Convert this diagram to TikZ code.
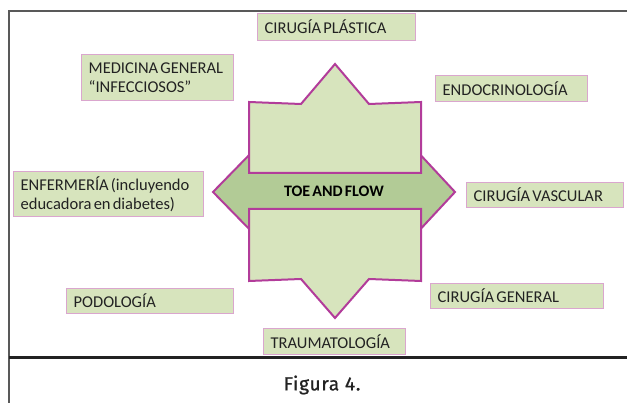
\documentclass[tikz,border=0pt]{standalone}
\usepackage{fontspec}
\setmainfont{Carlito}[WordSpace=0.6]
\newfontfamily\figfont{Fira Sans}[FakeBold=1,LetterSpace=4]
\usepackage{tikz}
\definecolor{leaf}{HTML}{D7E4BD}
\definecolor{leafdark}{HTML}{B2CB96}
\definecolor{plum}{HTML}{B23C9A}
\definecolor{rose}{HTML}{DAA6CE}
\definecolor{ink}{HTML}{222222}
\def\dpiece{\draw[plum,line width=2pt,fill=leaf]}
\def\dframe{\draw[black!65,line width=1.5pt]}

\begin{document}
\begin{tikzpicture}[x=1pt,y=-1pt,
    tag/.style={draw=rose,fill=leaf,line width=1.3pt,anchor=north west,
      align=left,inner xsep=7pt,inner ysep=1pt,text=ink,
      font=\fontsize{16.5}{18.5}\selectfont,
      execute at begin node={\spaceskip=0.13em\relax}}]
                \useasboundingbox (0,0) rectangle (627,403);
                % frame
                \dframe (9,403) -- (9,11) -- (627,11);
                \draw[ink,line width=3pt] (9,357.5) -- (627,357.5);
                % star
                \draw[plum,line width=2pt,fill=leafdark] (213,192) -- (255,149) -- (415,149)
                    -- (455,192) -- (415,235) -- (255,235) -- cycle;
                \dpiece (249,102) -- (301,104) -- (335,64) -- (369,104) -- (421,102)
                    -- (421,173) -- (249,173) -- cycle;
                \dpiece (249,209) -- (421,209) -- (421,281) -- (369,279) -- (335,318)
                    -- (301,279) -- (249,281) -- cycle;
                \node[text=black,font=\fontsize{16}{18}\selectfont\bfseries] (flow) at (334,191) {TOE AND FLOW};
                % boxes
                \node[tag,text width=144pt,minimum height=27pt] (plastica) at (257,13) {CIRUGÍA PLÁSTICA};
                \node[tag,text width=138pt,minimum height=46pt] (medicina) at (81,54) {MEDICINA GENERAL\\``INFECCIOSOS''};
                \node[tag,text width=138pt,minimum height=26pt] (endocrino) at (435,75) {ENDOCRINOLOGÍA};
                \node[tag,text width=176pt,minimum height=45pt] (enfermeria) at (13,171) {ENFERMERÍA (incluyendo\\educadora en diabetes)};
                \node[tag,text width=143pt,minimum height=25pt] (vascular) at (466,182) {CIRUGÍA VASCULAR};
                \node[tag,text width=153pt,minimum height=25pt] (podologia) at (66,288) {PODOLOGÍA};
                \node[tag,text width=159pt,minimum height=25pt] (general) at (430,283) {CIRUGÍA GENERAL};
                \node[tag,text width=128pt,minimum height=26pt] (trauma) at (263,328) {TRAUMATOLOGÍA};
                % caption
                \node[text=ink,font=\figfont\fontsize{19}{21}\selectfont] (figura) at (322,385) {Figura 4.};
            \end{tikzpicture}
\end{document}
